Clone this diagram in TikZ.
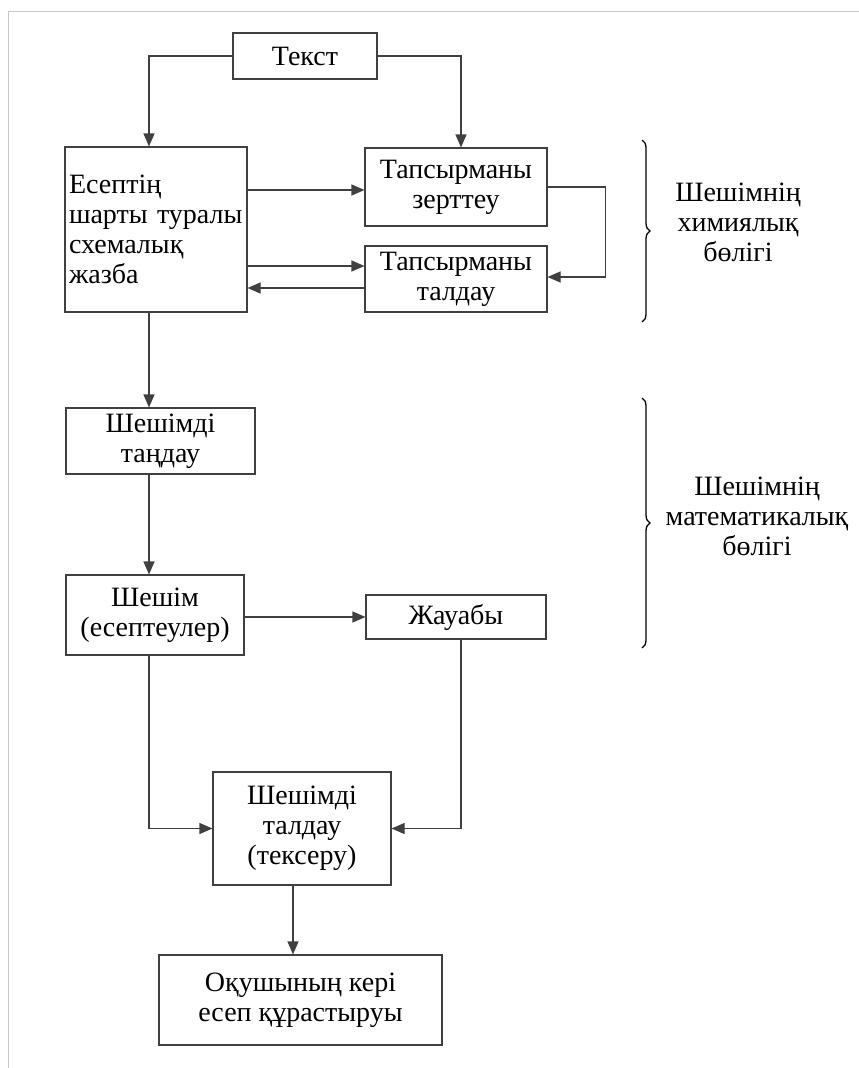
\documentclass[tikz,border=0pt]{standalone}
\usepackage{fontspec}
\setmainfont{Liberation Serif}
\usetikzlibrary{arrows.meta,calc,decorations.pathreplacing}
\tikzset{
	blok/.style={draw=black!75, line width=1.1pt, inner sep=0pt, align=center,
			font=\fontsize{28}{30}\selectfont},
	arr/.style={draw=black!75, line width=1.1pt, -{Triangle[length=13pt,width=11pt]}},
	bracket/.style={decorate, decoration={brace, amplitude=8pt}, line width=1.3pt},
	bolim/.style={align=center, font=\fontsize{28}{30}\selectfont}
}

\begin{document}
\begin{tikzpicture}[x=1pt, y=-1pt]
	\useasboundingbox (0,0) rectangle (859,1068);
	\draw[black!22, line width=1pt] (8,1068) -- (8,11) -- (859,11);

	\node[blok, minimum width=144pt, minimum height=46pt] (tekst) at (305,56) {Текст};
	\node[blok, minimum width=182pt, minimum height=165pt, align=left, text width=174pt] (eseptin) at (156,229.5) {Есептің\\шарты туралы\\схемалық\\жазба};
	\node[blok, minimum width=182pt, minimum height=78pt] (zertteu) at (456,187) {Тапсырманы\\зерттеу};
	\node[blok, minimum width=182pt, minimum height=66pt] (taldau) at (456,279) {Тапсырманы\\талдау};
	\node[blok, minimum width=189pt, minimum height=66pt] (tandau) at (160.5,441) {Шешімді\\таңдау};
	\node[blok, minimum width=178pt, minimum height=80pt] (sheshim) at (155,615) {Шешім\\(есептеулер)};
	\node[blok, minimum width=180pt, minimum height=44pt] (zhauaby) at (456,617) {Жауабы};
	\node[blok, minimum width=178pt, minimum height=113pt] (tekseru) at (302,828.5) {Шешімді\\талдау\\(тексеру)};
	\node[blok, minimum width=283pt, minimum height=90pt] (keri) at (300.5,1000) {Оқушының кері\\есеп құрастыруы};

	\coordinate (lx) at (149,0);
	\coordinate (rx) at (461,0);

	\draw[arr] (tekst.west) -| (eseptin.north -| lx);
	\draw[arr] (tekst.east) -| (zertteu.north -| rx);
	\draw[arr] ([yshift=-3pt]zertteu.west -| eseptin.east) -- ([yshift=-3pt]zertteu.west);
	\draw[arr] ([yshift=13pt]taldau.west -| eseptin.east) -- ([yshift=13pt]taldau.west);
	\draw[arr] ([yshift=-9pt]taldau.west) -- ([yshift=-9pt]taldau.west -| eseptin.east);
	\draw[arr] (zertteu.east) -- ++(58pt,0) |- ([yshift=2pt]taldau.east);
	\draw[arr] (eseptin.south -| lx) -- (tandau.north -| lx);
	\draw[arr] (tandau.south -| lx) -- (sheshim.north -| lx);
	\draw[arr] (sheshim.east |- zhauaby.west) -- (zhauaby.west);
	\draw[arr] (sheshim.south -| lx) |- (tekseru.west);
	\draw[arr] (zhauaby.south -| rx) |- (tekseru.east);
	\draw[arr] ([xshift=-9pt]tekseru.south) -- ([xshift=-9pt]tekseru.south |- keri.north);

	% brackets on the right
	\coordinate (b1a) at (642,140);
	\coordinate (b1b) at (642,322);
	\coordinate (b2a) at (642,398);
	\coordinate (b2b) at (642,648);
	\draw[bracket] (b1a) -- (b1b);
	\draw[bracket] (b2a) -- (b2b);
	\node[bolim] (himiya) at (738,222) {Шешімнің\\химиялық\\бөлігі};
	\node[bolim] (matem) at (757,516) {Шешімнің\\математикалық\\бөлігі};
\end{tikzpicture}
\end{document}
